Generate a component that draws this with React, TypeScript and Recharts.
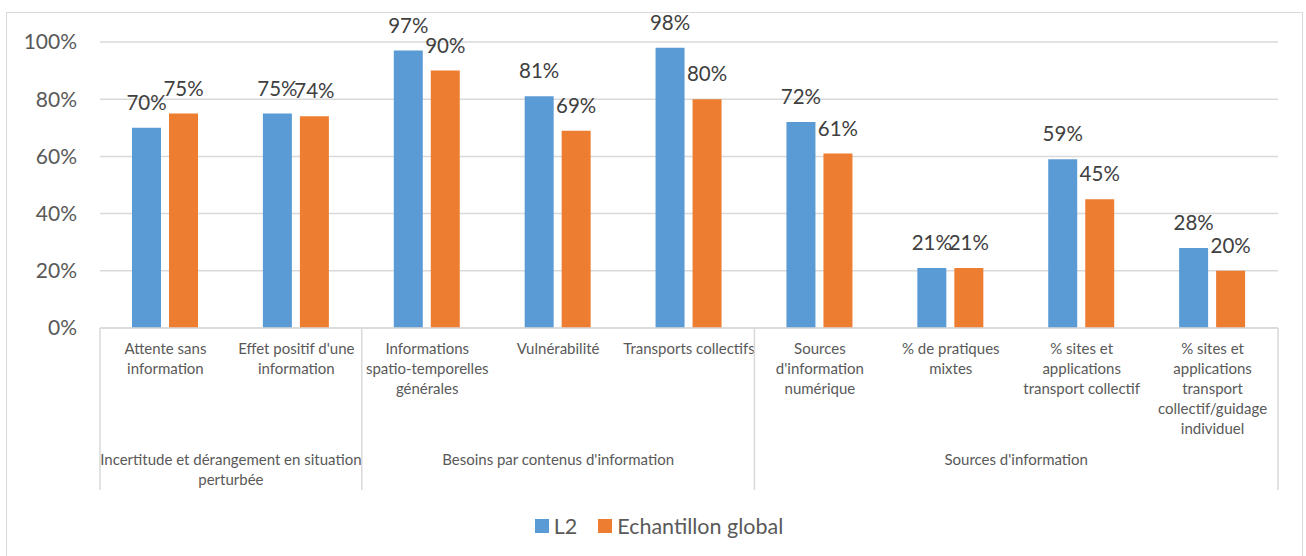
import React from "react";
import {
  BarChart,
  Bar,
  XAxis,
  YAxis,
  CartesianGrid,
  Legend,
  LabelList,
} from "recharts";

const categoryLines: string[][] = [
  ["Attente sans", "information"],
  ["Effet positif d'une", "information"],
  ["Informations", "spatio-temporelles", "générales"],
  ["Vulnérabilité"],
  ["Transports collectifs"],
  ["Sources", "d'information", "numérique"],
  ["% de pratiques", "mixtes"],
  ["% sites et", "applications", "transport collectif"],
  ["% sites et", "applications", "transport", "collectif/guidage", "individuel"],
];

const groupLines: string[][] = [
  ["Incertitude et dérangement en situation", "perturbée"],
  ["Besoins par contenus d'information"],
  ["Sources d'information"],
];
const groupStart = [0, 2, 5];
const groupSize = [2, 3, 4];

const l2Values = [70, 75, 97, 81, 98, 72, 21, 59, 28];
const globalValues = [75, 74, 90, 69, 80, 61, 21, 45, 20];

const yTicks = [0, 20, 40, 60, 80, 100];

const seriesNames = ["L2", "Echantillon global"];
const BLUE = "#5B9BD5";
const ORANGE = "#ED7D31";
const GRID = "#D9D9D9";
const FONT = "Lato, 'Open Sans', sans-serif";

const data = categoryLines.map((lines, i) => ({
  name: lines.join(" "),
  l2: l2Values[i],
  global: globalValues[i],
}));

function CategoryTick(props: any) {
  const { x, y, index, payload } = props;
  const half = payload && payload.offset ? payload.offset : 65.4;
  const lines = categoryLines[index] || [];
  const g = groupStart.indexOf(index);
  let group = null;
  if (g >= 0) {
    const left = x - half;
    const right = left + groupSize[g] * 2 * half;
    const cx = (left + right) / 2;
    group = (
      <g>
        <line x1={left} x2={left} y1={y} y2={y + 162} stroke={GRID} strokeWidth={1.5} />
        {g === groupStart.length - 1 && (
          <line x1={right} x2={right} y1={y} y2={y + 162} stroke={GRID} strokeWidth={1.5} />
        )}
        {groupLines[g].map((t, i) => (
          <text
            key={i}
            x={cx}
            y={y + 137 + i * 19.5}
            textAnchor="middle"
            fontSize={15}
            fill="#595959"
            fontFamily={FONT}
          >
            {t}
          </text>
        ))}
      </g>
    );
  }
  return (
    <g>
      {lines.map((t, i) => (
        <text
          key={i}
          x={x}
          y={y + 26 + i * 20}
          textAnchor="middle"
          fontSize={15}
          fill="#595959"
          fontFamily={FONT}
        >
          {t}
        </text>
      ))}
      {group}
    </g>
  );
}

function LegendContent() {
  const colors = [BLUE, ORANGE];
  return (
    <div
      style={{
        display: "flex",
        justifyContent: "center",
        alignItems: "center",
        paddingLeft: 0,
        fontFamily: FONT,
        fontSize: 21.5,
        color: "#595959",
        height: 30,
      }}
    >
      {seriesNames.map((n, i) => (
        <div key={n} style={{ display: "flex", alignItems: "center", marginRight: i === 0 ? 21 : 0 }}>
          <span style={{ width: 14, height: 14, background: colors[i], marginRight: 5, display: "inline-block" }} />
          <span>{n}</span>
        </div>
      ))}
    </div>
  );
}

export default function App() {
  return (
    <div style={{ position: "absolute", left: 0, top: 0, width: 1306, height: 556, background: "#fff", overflow: "hidden" }}>
      <div
        style={{
          position: "absolute",
          left: 6,
          top: 12,
          width: 1295,
          height: 560,
          border: `1px solid ${GRID}`,
        }}
      />
      <BarChart
        width={1306}
        height={556}
        data={data}
        margin={{ top: 42, right: 28, left: 40, bottom: 28 }}
        barSize={29}
        barGap={8}
      >
        <CartesianGrid vertical={false} stroke={GRID} strokeWidth={1.5} />
        <YAxis
          width={60}
          domain={[0, 100]}
          ticks={yTicks}
          tickFormatter={(v: number) => `${v}%`}
          axisLine={false}
          tickLine={false}
          tickSize={0}
          tickMargin={23}
          tick={{ fill: "#595959", fontSize: 21, fontFamily: FONT }}
        />
        <XAxis
          dataKey="name"
          height={170}
          interval={0}
          axisLine={{ stroke: GRID, strokeWidth: 1.5 }}
          tickLine={false}
          tickSize={0}
          tickMargin={0}
          tick={(p: any) => <CategoryTick {...p} />}
        />
        <Legend
          verticalAlign="bottom"
          height={30}
          wrapperStyle={{ bottom: 15 }}
          content={() => <LegendContent />}
        />
        <Bar dataKey="l2" name={seriesNames[0]} fill={BLUE} isAnimationActive={false}>
          <LabelList
            dataKey="l2"
            position="top"
            offset={18}
            formatter={(v: any) => `${v}%`}
            style={{ fill: "#404040", fontSize: 20.5, fontFamily: FONT }}
          />
        </Bar>
        <Bar dataKey="global" name={seriesNames[1]} fill={ORANGE} isAnimationActive={false}>
          <LabelList
            dataKey="global"
            position="top"
            offset={18}
            formatter={(v: any) => `${v}%`}
            style={{ fill: "#404040", fontSize: 20.5, fontFamily: FONT }}
          />
        </Bar>
      </BarChart>
    </div>
  );
}
